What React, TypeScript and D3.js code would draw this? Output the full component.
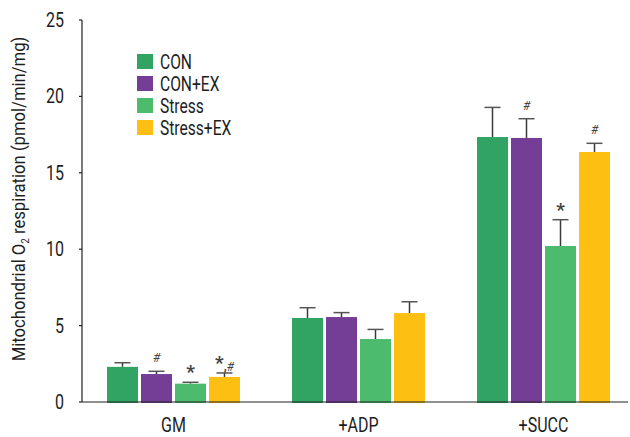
import React, { useEffect, useRef } from "react";
import * as d3 from "d3";

const groups = ["GM", "+ADP", "+SUCC"];
const series = ["CON", "CON+EX", "Stress", "Stress+EX"];
const colors = ["#31a363", "#743d96", "#4dbb6e", "#fdbf12"];
const means = [
  [2.3, 1.83, 1.2, 1.64],
  [5.5, 5.56, 4.12, 5.82],
  [17.34, 17.28, 10.21, 16.36],
];
const errors = [
  [0.27, 0.18, 0.09, 0.26],
  [0.67, 0.29, 0.63, 0.74],
  [1.94, 1.26, 1.72, 0.57],
];
const marks = [
  ["", "#", "*", "*,#"],
  ["", "", "", ""],
  ["", "#", "*", "#"],
];
const yTicks = [0, 5, 10, 15, 20, 25];

const FONT = "Roboto, 'Liberation Sans', sans-serif";
const SX = 0.8;

export default function App() {
  const ref = useRef<SVGSVGElement>(null);

  useEffect(() => {
    const svg = d3.select(ref.current);
    svg.selectAll("*").remove();

    const left = 82;
    const top = 20;
    const bottom = 402;

    // condensed text helper
    const label = (px: number, py: number, txt: string, size: number, anchor: string) =>
      svg.append("text")
        .attr("transform", `translate(${px},${py}) scale(${SX},1)`)
        .attr("text-anchor", anchor)
        .attr("font-family", FONT)
        .attr("font-size", size)
        .attr("fill", "#1e1e1e")
        .text(txt);

    const x = d3.scaleBand().domain(groups).range([81, 636]).padding(0);
    const xs = d3.scaleBand().domain(series).range([0, 31 * 4 + 3 * 3]).paddingInner(3 / 34);
    const y = d3.scaleLinear().domain([0, 25]).range([bottom, top]);

    // bars
    groups.forEach((g, gi) => {
      const gx = x(g)! + x.bandwidth() / 2 - (31 * 4 + 9) / 2;
      const grp = svg.append("g").attr("transform", `translate(${gx},0)`);
      series.forEach((s, si) => {
        const bx = xs(s)!;
        const bw = xs.bandwidth();
        const cx = bx + bw / 2;
        const v = means[gi][si];
        const e = errors[gi][si];
        grp.append("line")
          .attr("x1", cx).attr("x2", cx)
          .attr("y1", y(v)).attr("y2", y(v + e))
          .attr("stroke", "#3a3a3a").attr("stroke-width", 1.5);
        grp.append("line")
          .attr("x1", cx - 8).attr("x2", cx + 8)
          .attr("y1", y(v + e)).attr("y2", y(v + e))
          .attr("stroke", "#555").attr("stroke-width", 1.5);
        grp.append("rect")
          .attr("x", bx).attr("width", bw)
          .attr("y", y(v)).attr("height", bottom + 1 - y(v))
          .attr("fill", colors[si]);
        const m = marks[gi][si];
        if (m) {
          const t = grp.append("text")
            .attr("x", cx)
            .attr("y", y(v + e) - 9)
            .attr("text-anchor", "middle")
            .attr("font-family", FONT)
            .attr("fill", "#444");
          m.split(/(,)/).forEach((part) => {
            if (part === "*") {
              t.append("tspan").attr("font-size", 19).attr("font-weight", "bold").attr("dy", 5).text("*");
              t.append("tspan").attr("dy", -6).text("");
            } else if (part === ",") {
              t.append("tspan").attr("font-size", 12).attr("font-weight", "bold").attr("dy", 2).text(",");
              t.append("tspan").attr("dy", -2).text("");
            } else {
              t.append("tspan").attr("font-size", 12).attr("font-style", "italic").text(part);
            }
          });
        }
      });
    });

    // axes
    svg.append("line").attr("x1", left).attr("x2", left).attr("y1", top).attr("y2", bottom)
      .attr("stroke", "#222").attr("stroke-width", 1.2);
    svg.append("line").attr("x1", left).attr("x2", 628).attr("y1", bottom).attr("y2", bottom)
      .attr("stroke", "#222").attr("stroke-width", 1.2);

    yTicks.forEach((t) => {
      svg.append("line").attr("x1", left - 3).attr("x2", left).attr("y1", y(t)).attr("y2", y(t))
        .attr("stroke", "#222").attr("stroke-width", 1.2);
      label(64, y(t) + 7, String(t), 20, "end");
    });

    groups.forEach((g) => {
      label(x(g)! + x.bandwidth() / 2, 432, g, 20, "middle");
    });

    const yl = svg.append("text")
      .attr("transform", "translate(25,199) rotate(-90) scale(0.9,1)")
      .attr("text-anchor", "middle").attr("font-family", FONT).attr("font-size", 18.5)
      .attr("fill", "#1e1e1e");
    yl.append("tspan").text("Mitochondrial O");
    yl.append("tspan").attr("font-size", 11).attr("dy", 4).text("2");
    yl.append("tspan").attr("dy", -4).text(" respiration (pmol/min/mg)");

    // legend
    series.forEach((s, i) => {
      const ly = 62 + i * 22;
      svg.append("rect").attr("x", 137).attr("y", ly - 8).attr("width", 16).attr("height", 15)
        .attr("fill", colors[i]);
      label(160, ly + 7, s, 19.5, "start");
    });
  }, []);

  return (
    <svg ref={ref} width={630} height={437} style={{ position: "absolute", left: 0, top: 0, background: "#fff" }} />
  );
}
